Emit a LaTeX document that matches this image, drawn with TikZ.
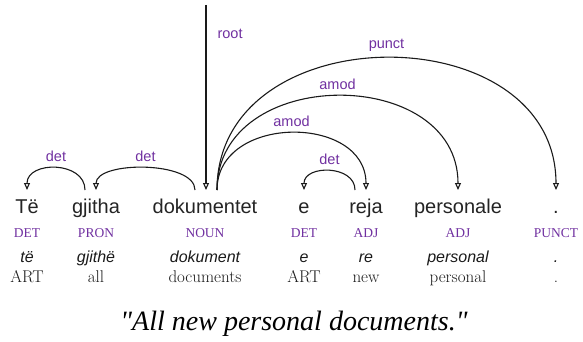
\documentclass[tikz,border=0pt]{standalone}
\usepackage{fontspec}
\newfontfamily\wordfont{Liberation Sans}
\newfontfamily\tagfont{Liberation Serif}
\usetikzlibrary{positioning,arrows.meta,calc}
\definecolor{ink}     {HTML}{1A1A1A}
\definecolor{wordink} {HTML}{242424}
\definecolor{deprel}  {HTML}{7030A0}
\tikzset{
  every node/.style={inner sep=0pt},
  % --- nodes
  word/.style   = {anchor=base, text=wordink, font=\wordfont\fontsize{20}{24}\selectfont},
  postag/.style = {anchor=base, text=deprel, font=\tagfont\fontsize{13.5}{16}\selectfont},
  lemma/.style  = {anchor=base, text=ink, font=\wordfont\itshape\fontsize{16}{19}\selectfont},
  gloss/.style  = {anchor=base, text=ink, font=\rmfamily\fontsize{17}{20}\selectfont},
  rel/.style    = {inner sep=1pt, text=deprel, font=\wordfont\fontsize{14.5}{17}\selectfont},
  caption/.style= {anchor=base, text=black, font=\tagfont\itshape\fontsize{28}{32}\selectfont},
  % --- edges
  dep/.style    = {-{Triangle[open,length=7pt,width=6pt]}, line width=1.1pt, draw=ink},
}

\begin{document}
\begin{tikzpicture}[x=1pt,y=-1pt]
  \useasboundingbox (0,0) rectangle (583,342);

  % --- tokens, tags, lemmas, glosses
  \foreach \x/\n/\w/\t/\l/\g in {27/1/Të/DET/të/ART, 96/2/gjitha/PRON/gjithë/all,
      205/3/dokumentet/NOUN/dokument/documents, 304/4/e/DET/e/ART, 366/5/reja/ADJ/re/new,
      458/6/personale/ADJ/personal/personal, 556/7/./PUNCT/./.} {
    \node[word]   (w\n) at (\x,213) {\w};
    \node[postag] (p\n) at (\x,237) {\t};
    \node[lemma]  (l\n) at (\x,262) {\l};
    \node[gloss]  (g\n) at (\x,282) {\g};
    \coordinate (in\n) at ([yshift=23pt]w\n.base);
  }

  % --- arc ends
  \coordinate (top)    at (206,5);
  \coordinate (rootin) at ([xshift=1pt,yshift=23pt]w3.base);
  \coordinate (out2)   at ([xshift=-11pt,yshift=23pt]w2.base);
  \coordinate (out3a)  at ([xshift=-10pt,yshift=23pt]w3.base);
  \coordinate (out3b)  at ([xshift=12pt,yshift=23pt]w3.base);
  \coordinate (out5)   at ([xshift=-11pt,yshift=23pt]w5.base);

  % --- dependencies
  \draw[dep] (top) -- node[rel, pos=0.155, right=10pt] {root} (rootin);
  \draw[dep] (out2) .. controls +(0,-29.3) and +(0,-29.3) .. node[rel, midway, above=5pt] {det} (in1);
  \draw[dep] (out3a) .. controls +(0,-29.3) and +(0,-29.3) .. node[rel, midway, above=5pt] {det} (in2);
  \draw[dep] (out5) .. controls +(0,-25.3) and +(0,-25.3) .. node[rel, midway, above=5pt] {det} (in4);
  \draw[dep] (out3b) .. controls +(0,-76) and +(0,-76) .. node[rel, midway, above=5pt] {amod} (in5);
  \draw[dep] (out3b) .. controls +(0,-125.3) and +(0,-125.3) .. node[rel, midway, above=5pt] {amod} (in6);
  \draw[dep] (out3b) .. controls +(0,-176) and +(0,-176) .. node[rel, midway, above=5pt] {punct} (in7);

  \node[caption] (cap) at (294,330) {"All new personal documents."};
\end{tikzpicture}
\end{document}
